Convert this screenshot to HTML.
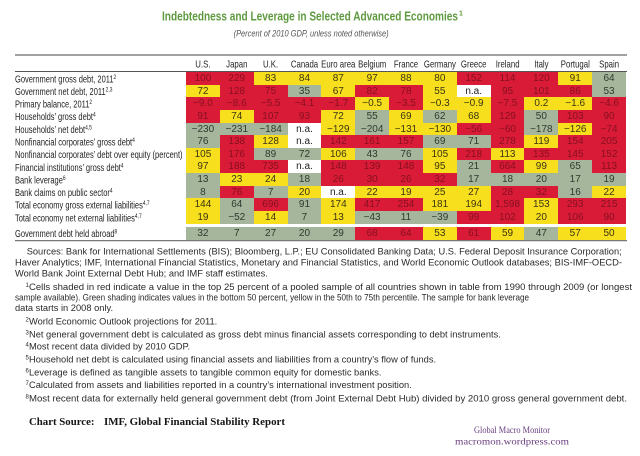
<!DOCTYPE html>
<html><head><meta charset="utf-8">
<style>
html,body{margin:0;padding:0;background:#fff;}
body{width:640px;height:456px;position:relative;overflow:hidden;font-family:"Liberation Sans",sans-serif;}
svg{position:absolute;left:0;top:0;}
.row{position:absolute;left:186px;height:12.64px;display:flex;}
.row div{width:33.85px;flex:none;height:100%;text-align:center;font:10px/13.6px "Liberation Sans",sans-serif;white-space:nowrap;overflow:visible;}
.row.last{height:13.4px;}
.row.last div{line-height:14.2px;}
.r{background:#da1b38;color:#86101f;}
.y{background:#f8df1d;color:#3a3412;}
.g{background:#a5b69d;color:#2d3a2d;}
.w{background:#fff;color:#222;}
</style></head>
<body>
<div class="row" style="top:72px"><div class="r">100</div><div class="r">229</div><div class="y">83</div><div class="y">84</div><div class="y">87</div><div class="y">97</div><div class="y">88</div><div class="y">80</div><div class="r">152</div><div class="r">114</div><div class="r">120</div><div class="y">91</div><div class="g">64</div></div>
<div class="row" style="top:84.64px"><div class="y">72</div><div class="r">128</div><div class="r">75</div><div class="g">35</div><div class="y">67</div><div class="r">82</div><div class="r">78</div><div class="y">55</div><div class="w">n.a.</div><div class="r">95</div><div class="r">101</div><div class="r">86</div><div class="g">53</div></div>
<div class="row" style="top:97.28px"><div class="r">−9.0</div><div class="r">−8.6</div><div class="r">−5.5</div><div class="r">−4.1</div><div class="r">−1.7</div><div class="y">−0.5</div><div class="r">−3.5</div><div class="y">−0.3</div><div class="y">−0.9</div><div class="r">−7.5</div><div class="y">0.2</div><div class="y">−1.6</div><div class="r">−4.6</div></div>
<div class="row" style="top:109.92px"><div class="r">91</div><div class="y">74</div><div class="r">107</div><div class="r">93</div><div class="y">72</div><div class="g">55</div><div class="y">69</div><div class="g">62</div><div class="y">68</div><div class="r">129</div><div class="g">50</div><div class="r">103</div><div class="r">90</div></div>
<div class="row" style="top:122.56px"><div class="g">−230</div><div class="g">−231</div><div class="g">−184</div><div class="w">n.a.</div><div class="y">−129</div><div class="g">−204</div><div class="y">−131</div><div class="y">−130</div><div class="r">−56</div><div class="r">−60</div><div class="g">−178</div><div class="y">−126</div><div class="r">−74</div></div>
<div class="row" style="top:135.2px"><div class="g">76</div><div class="r">138</div><div class="y">128</div><div class="w">n.a.</div><div class="r">142</div><div class="r">161</div><div class="r">157</div><div class="g">69</div><div class="g">71</div><div class="r">278</div><div class="y">119</div><div class="r">154</div><div class="r">205</div></div>
<div class="row" style="top:147.84px"><div class="y">105</div><div class="r">176</div><div class="g">89</div><div class="g">72</div><div class="y">106</div><div class="g">43</div><div class="g">76</div><div class="y">105</div><div class="r">218</div><div class="y">113</div><div class="r">135</div><div class="r">145</div><div class="r">152</div></div>
<div class="row" style="top:160.48px"><div class="y">97</div><div class="r">188</div><div class="r">735</div><div class="w">n.a.</div><div class="r">148</div><div class="r">139</div><div class="r">148</div><div class="y">95</div><div class="g">21</div><div class="r">664</div><div class="y">99</div><div class="g">65</div><div class="r">113</div></div>
<div class="row" style="top:173.12px"><div class="g">13</div><div class="y">23</div><div class="y">24</div><div class="g">18</div><div class="r">26</div><div class="r">30</div><div class="r">26</div><div class="r">32</div><div class="g">17</div><div class="g">18</div><div class="g">20</div><div class="g">17</div><div class="g">19</div></div>
<div class="row" style="top:185.76px"><div class="g">8</div><div class="r">76</div><div class="g">7</div><div class="y">20</div><div class="w">n.a.</div><div class="y">22</div><div class="y">19</div><div class="y">25</div><div class="y">27</div><div class="r">28</div><div class="r">32</div><div class="g">16</div><div class="y">22</div></div>
<div class="row" style="top:198.4px"><div class="y">144</div><div class="g">64</div><div class="r">696</div><div class="g">91</div><div class="y">174</div><div class="r">417</div><div class="r">254</div><div class="y">181</div><div class="y">194</div><div class="r">1,598</div><div class="y">153</div><div class="r">293</div><div class="r">215</div></div>
<div class="row" style="top:211.04px"><div class="y">19</div><div class="g">−52</div><div class="y">14</div><div class="g">7</div><div class="y">13</div><div class="g">−43</div><div class="g">11</div><div class="g">−39</div><div class="r">99</div><div class="r">102</div><div class="y">20</div><div class="r">106</div><div class="r">90</div></div>
<div class="row last" style="top:226.6px"><div class="g">32</div><div class="g">7</div><div class="g">27</div><div class="g">20</div><div class="g">29</div><div class="r">68</div><div class="r">64</div><div class="y">53</div><div class="r">61</div><div class="y">59</div><div class="g">47</div><div class="y">57</div><div class="y">50</div></div>

<svg width="640" height="456" viewBox="0 0 640 456" xmlns="http://www.w3.org/2000/svg" font-family="Liberation Sans, sans-serif">
  <!-- Title -->
  <text x="162" y="20.5" font-size="13" font-weight="bold" fill="#5f9a41" textLength="296" lengthAdjust="spacingAndGlyphs">Indebtedness and Leverage in Selected Advanced Economies</text>
  <text x="459" y="15.5" font-size="7" font-weight="bold" fill="#5f9a41">1</text>
  <text x="233.6" y="36.5" font-size="9.5" font-style="italic" fill="#555" textLength="155" lengthAdjust="spacingAndGlyphs">(Percent of 2010 GDP, unless noted otherwise)</text>

  <!-- Rules -->
  <line x1="15" y1="55" x2="627" y2="55" stroke="#6a6a6a" stroke-width="1.2"/>
  <line x1="15" y1="71.5" x2="627" y2="71.5" stroke="#555" stroke-width="0.9"/>
  <line x1="15" y1="240.6" x2="627" y2="240.6" stroke="#777" stroke-width="1.2"/>

  <!-- Column headers -->
  <g transform="scale(0.78,1)" font-size="10" fill="#222" text-anchor="middle">
    <text x="260.1" y="67.6">U.S.</text>
    <text x="303.6" y="67.6">Japan</text>
    <text x="346.9" y="67.6">U.K.</text>
    <text x="390.4" y="67.6">Canada</text>
    <text x="433.7" y="67.6">Euro area</text>
    <text x="477.2" y="67.6">Belgium</text>
    <text x="520.5" y="67.6">France</text>
    <text x="564.0" y="67.6">Germany</text>
    <text x="607.3" y="67.6">Greece</text>
    <text x="650.8" y="67.6">Ireland</text>
    <text x="694.1" y="67.6">Italy</text>
    <text x="737.6" y="67.6">Portugal</text>
    <text x="780.9" y="67.6">Spain</text>
  </g>

  <!-- Row labels -->
  <g transform="scale(0.75,1)" font-size="10" fill="#1e1e1e">
    <text x="20" y="82.3">Government gross debt, 2011<tspan font-size="6.5" dy="-3.5">2</tspan></text>
    <text x="20" y="94.94">Government net debt, 2011<tspan font-size="6.5" dy="-3.5">2,3</tspan></text>
    <text x="20" y="107.58">Primary balance, 2011<tspan font-size="6.5" dy="-3.5">2</tspan></text>
    <text x="20" y="120.22">Households’ gross debt<tspan font-size="6.5" dy="-3.5">4</tspan></text>
    <text x="20" y="132.86">Households’ net debt<tspan font-size="6.5" dy="-3.5">4,5</tspan></text>
    <text x="20" y="145.5">Nonfinancial corporates’ gross debt<tspan font-size="6.5" dy="-3.5">4</tspan></text>
    <text x="20" y="158.14">Nonfinancial corporates’ debt over equity (percent)</text>
    <text x="20" y="170.78">Financial institutions’ gross debt<tspan font-size="6.5" dy="-3.5">4</tspan></text>
    <text x="20" y="183.42">Bank leverage<tspan font-size="6.5" dy="-3.5">6</tspan></text>
    <text x="20" y="196.06">Bank claims on public sector<tspan font-size="6.5" dy="-3.5">4</tspan></text>
    <text x="20" y="208.7">Total economy gross external liabilities<tspan font-size="6.5" dy="-3.5">4,7</tspan></text>
    <text x="20" y="221.34">Total economy net external liabilities<tspan font-size="6.5" dy="-3.5">4,7</tspan></text>
    <text x="20" y="237.2">Government debt held abroad<tspan font-size="6.5" dy="-3.5">8</tspan></text>
  </g>

  <!-- Footnotes -->
  <g font-size="9.3" fill="#2a2a2a">
    <text x="26.7" y="254.3" textLength="595" lengthAdjust="spacingAndGlyphs">Sources: Bank for International Settlements (BIS); Bloomberg, L.P.; EU Consolidated Banking Data; U.S. Federal Deposit Insurance Corporation;</text>
    <text x="15" y="265.4" textLength="607" lengthAdjust="spacingAndGlyphs">Haver Analytics; IMF, International Financial Statistics, Monetary and Financial Statistics, and World Economic Outlook databases; BIS-IMF-OECD-</text>
    <text x="15" y="276.6">World Bank Joint External Debt Hub; and IMF staff estimates.</text>
    <text x="25.5" y="287" font-size="6">1</text>
    <text x="29" y="290" textLength="603" lengthAdjust="spacingAndGlyphs">Cells shaded in red indicate a value in the top 25 percent of a pooled sample of all countries shown in table from 1990 through 2009 (or longest</text>
    <text x="15" y="300.4" textLength="514" lengthAdjust="spacingAndGlyphs">sample available). Green shading indicates values in the bottom 50 percent, yellow in the 50th to 75th percentile. The sample for bank leverage</text>
    <text x="15" y="311">data starts in 2008 only.</text>

    <text x="25.5" y="321.3" font-size="6">2</text>
    <text x="29" y="324.3">World Economic Outlook projections for 2011.</text>
    <text x="25.5" y="334.6" font-size="6">3</text>
    <text x="29" y="337.6">Net general government debt is calculated as gross debt minus financial assets corresponding to debt instruments.</text>
    <text x="25.5" y="346.6" font-size="6">4</text>
    <text x="29" y="349.6">Most recent data divided by 2010 GDP.</text>
    <text x="25.5" y="359.6" font-size="6">5</text>
    <text x="29" y="362.6">Household net debt is calculated using financial assets and liabilities from a country’s flow of funds.</text>
    <text x="25.5" y="372.3" font-size="6">6</text>
    <text x="29" y="375.3">Leverage is defined as tangible assets to tangible common equity for domestic banks.</text>
    <text x="25.5" y="385" font-size="6">7</text>
    <text x="29" y="388">Calculated from assets and liabilities reported in a country’s international investment position.</text>
    <text x="25.5" y="398.6" font-size="6">8</text>
    <text x="29" y="401.6" textLength="598" lengthAdjust="spacingAndGlyphs">Most recent data for externally held general government debt (from Joint External Debt Hub) divided by 2010 gross general government debt.</text>
  </g>

  <!-- Chart source -->
  <g font-family="Liberation Serif, serif" font-weight="bold" font-size="10.8" fill="#151515">
    <text x="29" y="424.8">Chart Source:</text>
    <text x="104" y="424.8" textLength="181" lengthAdjust="spacingAndGlyphs">IMF, Global Financial Stability Report</text>
  </g>
  <g font-family="Liberation Serif, serif" font-size="9.5" fill="#6a3d80" text-anchor="middle">
    <text x="512" y="433.2" textLength="76" lengthAdjust="spacingAndGlyphs">Global Macro Monitor</text>
    <text x="512" y="444.6" textLength="114" lengthAdjust="spacingAndGlyphs">macromon.wordpress.com</text>
  </g>
</svg>
</body></html>
